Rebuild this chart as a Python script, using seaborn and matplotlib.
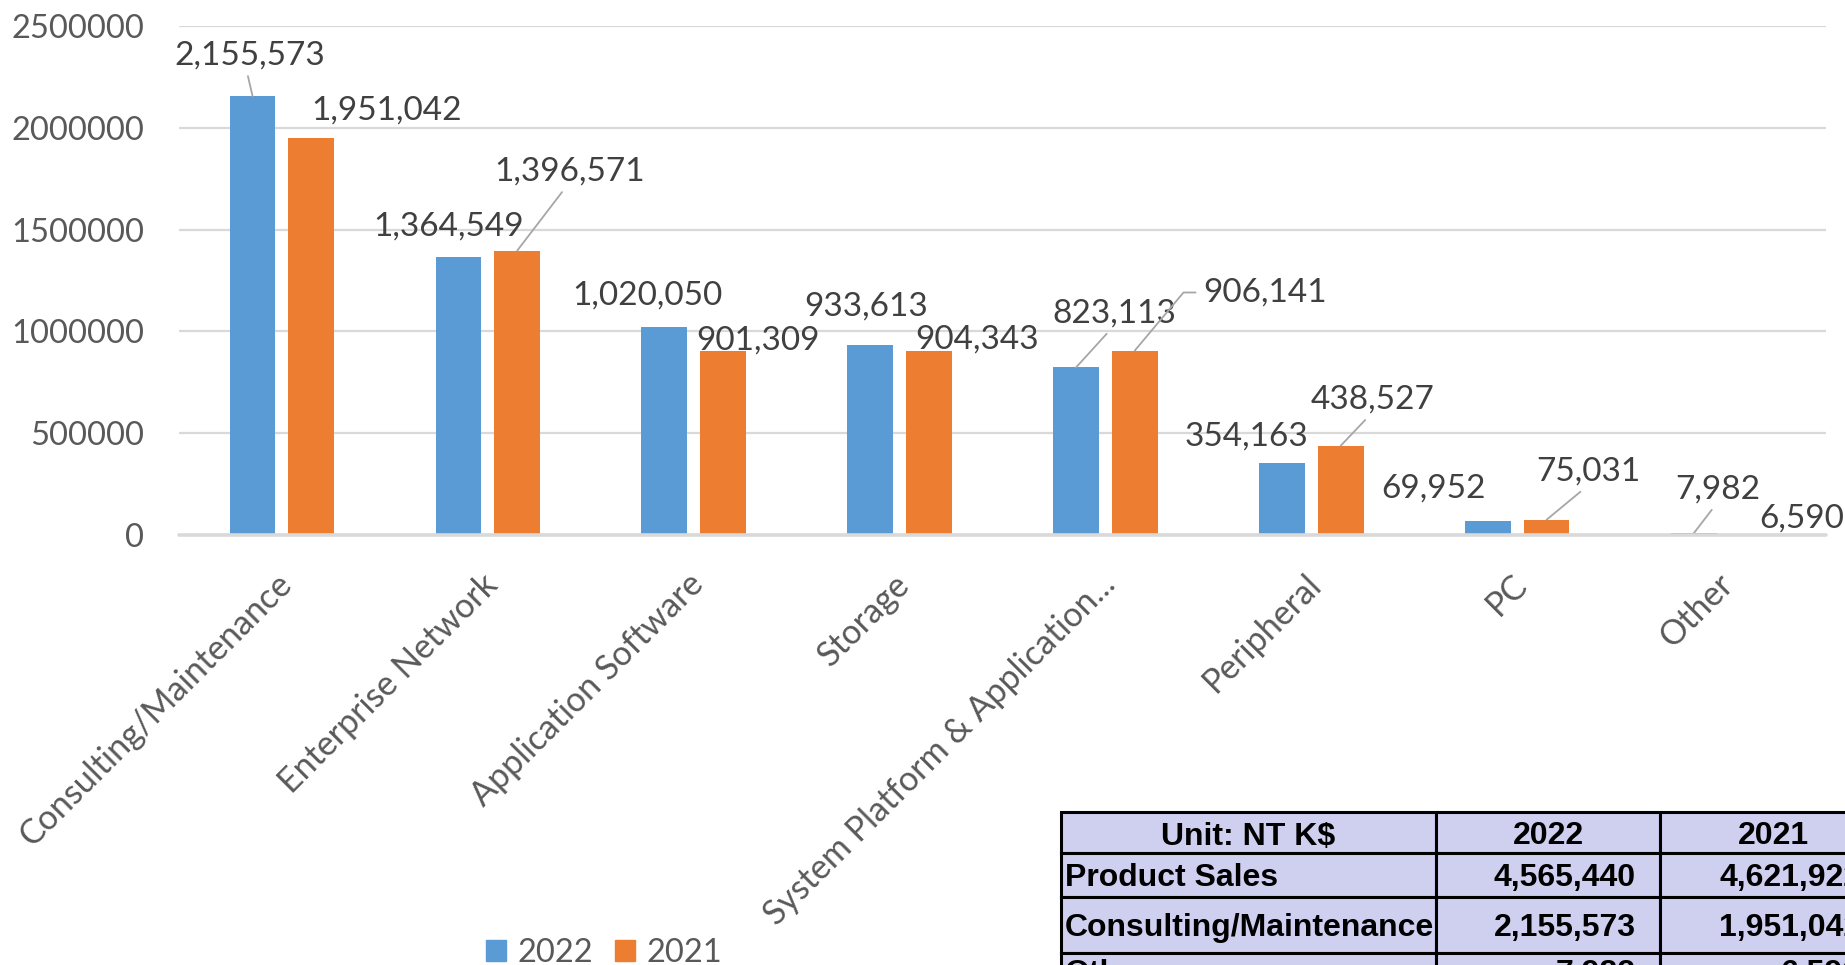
import numpy as np
import pandas as pd
import matplotlib.pyplot as plt
import matplotlib.transforms as mtransforms
from matplotlib.patches import Patch, Rectangle
import seaborn as sns

# chart data (NT K$)
categories = ['Consulting/Maintenance', 'Enterprise Network', 'Application Software', 'Storage',
              'System Platform & Application...', 'Peripheral', 'PC', 'Other']
years = ['2022', '2021']
sales_2022 = [2155573, 1364549, 1020050, 933613, 823113, 354163, 69952, 7982]
sales_2021 = [1951042, 1396571, 901309, 904343, 906141, 438527, 75031, 6590]
yticks = [0, 500000, 1000000, 1500000, 2000000, 2500000]

# summary table
table_header = ['Unit: NT K$', '2022', '2021']
table_labels = ['Product Sales', 'Consulting/Maintenance', 'Other']
table_2022 = ['4,565,440', '2,155,573', '7,982']
table_2021 = ['4,621,922', '1,951,042', '6,590']

df = pd.DataFrame({
    'category': categories * 2,
    'year': [years[0]] * len(categories) + [years[1]] * len(categories),
    'value': sales_2022 + sales_2021,
})

BLUE, ORANGE = '#5B9BD5', '#ED7D31'

sns.set_theme(style='white')
plt.rcParams['font.family'] = ['Lato', 'DejaVu Sans']

W, H = 1845, 965
fig = plt.figure(figsize=(W / 100, H / 100), dpi=100)
ax = fig.add_axes([179 / W, 430 / H, 1647 / W, 509 / H])

sns.barplot(data=df, x='category', y='value', hue='year', hue_order=years,
            palette=[BLUE, ORANGE], saturation=1, width=0.571, gap=0.22,
            linewidth=0, errorbar=None, legend=False, ax=ax)

ax.set_xlim(-0.5, len(categories) - 0.5)
ax.set_ylim(0, 2500000)
ax.set_yticks(yticks)
ax.set_yticklabels([str(v) for v in yticks])
ax.yaxis.grid(True, color='#d9d9d9', lw=1.6)
ax.set_axisbelow(True)
# horizontal axis line sits over the bars, as in Excel
ax.axhline(0, color='#d9d9d9', lw=2.6, zorder=5, clip_on=False)
for s in ax.spines.values():
    s.set_visible(False)
ax.set_xlabel('')
ax.set_ylabel('')
ax.tick_params(axis='y', length=0, pad=25, labelsize=23.5, labelcolor='#595959')
ax.tick_params(axis='x', length=0, pad=32, labelsize=24.5, labelcolor='#595959')
ax.set_xticks(range(len(categories)))
ax.set_xticklabels(categories, rotation=45, ha='right', va='center', rotation_mode='anchor')
shift = mtransforms.ScaledTranslation(5 / 100, 0, fig.dpi_scale_trans)
for lbl in ax.get_xticklabels():
    lbl.set_transform(lbl.get_transform() + shift)

# data labels: offset of label centre from bar top (pixels), and leader lines
offsets = [
    [(-3, 41), (-10, 31), (-17, 32), (-4, 38), (38, 54), (-35, 26), (-54, 32), (24, 44)],
    [(75, 27), (52, 79), (35, 11), (48, 11), (130, 58), (32, 46), (42, 48), (49, 15)],
]
leaders = [
    [True, False, False, False, True, False, False, True],
    [False, True, False, False, True, True, True, False],
]
for k, cont in enumerate(ax.containers):
    for i, bar in enumerate(cont):
        x = bar.get_x() + bar.get_width() / 2
        y = bar.get_height()
        kw = {}
        if leaders[k][i]:
            if k == 1 and i == 4:
                kw['arrowprops'] = dict(arrowstyle='-', color='#a6a6a6', lw=1.3,
                                        shrinkA=3, shrinkB=0, relpos=(0, 0.5),
                                        connectionstyle='angle,angleA=0,angleB=50,rad=0')
            else:
                kw['arrowprops'] = dict(arrowstyle='-', color='#a6a6a6', lw=1.3,
                                        shrinkA=2, shrinkB=0, relpos=(0.48, 0))
        ax.annotate(f'{int(y):,}', xy=(x, y), xytext=offsets[k][i],
                    textcoords='offset pixels', ha='center', va='center',
                    fontsize=24, color='#404040', annotation_clip=False, **kw)

fig.legend(handles=[Patch(color=BLUE), Patch(color=ORANGE)], labels=years,
           loc='center', bbox_to_anchor=(604 / W, 1 - 953 / H), ncol=2, frameon=False,
           fontsize=23.5, handlelength=0.62, handleheight=0.62, handletextpad=0.35,
           columnspacing=0.65, labelcolor='#595959')

# table in pixel coordinates
tab = fig.add_axes([0, 0, 1, 1])
tab.set_xlim(0, W)
tab.set_ylim(H, 0)
tab.axis('off')
xs = [1061, 1436, 1660, 1886]
ys = [812, 853, 897, 953, 1005]
tfont = dict(family=['Liberation Sans', 'DejaVu Sans'], weight='bold',
             fontsize=23, color='black')
for r in range(4):
    for c in range(3):
        tab.add_patch(Rectangle((xs[c], ys[r]), xs[c + 1] - xs[c], ys[r + 1] - ys[r],
                                facecolor='#CFCFF0', edgecolor='black', lw=2.2))
for c, h in enumerate(table_header):
    tab.text((xs[c] + xs[c + 1]) / 2, (ys[0] + ys[1]) / 2 + 4, h, ha='center', va='center', **tfont)
for r in range(3):
    yc = (ys[r + 1] + ys[r + 2]) / 2 + 3
    if r == 2:
        yc = ys[r + 1] + 21
    tab.text(xs[0] + 4, yc, table_labels[r], ha='left', va='center', **tfont)
    tab.text(1636, yc, table_2022[r], ha='right', va='center', **tfont)
    tab.text(1861, yc, table_2021[r], ha='right', va='center', **tfont)

fig.savefig('out.png', dpi=100)
